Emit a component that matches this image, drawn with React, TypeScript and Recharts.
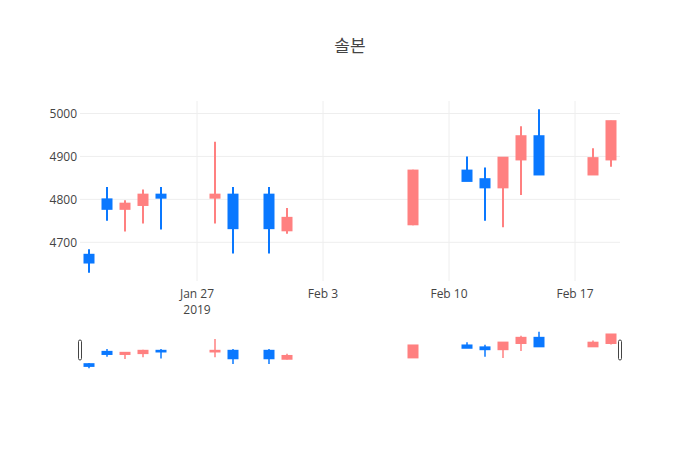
import React from 'react';
import {
  ComposedChart,
  Bar,
  XAxis,
  YAxis,
  CartesianGrid,
  ReferenceLine,
} from 'recharts';

const dates = [
  '2019-01-21', '2019-01-22', '2019-01-23', '2019-01-24', '2019-01-25',
  '2019-01-28', '2019-01-29', '2019-01-31', '2019-02-01', '2019-02-08',
  '2019-02-11', '2019-02-12', '2019-02-13', '2019-02-14', '2019-02-15',
  '2019-02-18', '2019-02-19',
];
const opens = [4671, 4800, 4778, 4787, 4811, 4804, 4811, 4811, 4728, 4742, 4867, 4847, 4828, 4893, 4947, 4858, 4893];
const highs = [4684, 4829, 4798, 4823, 4829, 4934, 4829, 4829, 4780, 4869, 4900, 4874, 4898, 4970, 5010, 4919, 4983];
const lows = [4629, 4750, 4725, 4744, 4730, 4744, 4674, 4674, 4720, 4740, 4843, 4750, 4735, 4810, 4858, 4858, 4876];
const closes = [4653, 4778, 4790, 4811, 4804, 4811, 4733, 4733, 4757, 4867, 4843, 4828, 4897, 4947, 4858, 4896, 4982];

const tickDates = ['2019-01-27', '2019-02-03', '2019-02-10', '2019-02-17'];
const yTicks = [4700, 4800, 4900, 5000];
const yDomain = [4610, 5029];

const UP = '#ff8080';
const DOWN = '#0a78ff';
const FONT = '"Open Sans", "Noto Sans CJK KR", sans-serif';
const DAY = 86400000;
const MONTHS = ['Jan', 'Feb', 'Mar', 'Apr', 'May', 'Jun', 'Jul', 'Aug', 'Sep', 'Oct', 'Nov', 'Dec'];

const toTs = (d: string) => Date.parse(d + 'T00:00:00Z');

const data = dates.map((d, i) => ({
  t: toTs(d),
  range: [lows[i], highs[i]],
  open: opens[i],
  high: highs[i],
  low: lows[i],
  close: closes[i],
}));

const xTicks = tickDates.map(toTs);
const xDomain = [toTs(dates[0]) - DAY / 2, toTs(dates[dates.length - 1]) + DAY / 2];

const makeCandle = (wick: number, bodyW: number) => (props: any) => {
  const { x, y, width, height, payload } = props;
  if (!payload || height == null) return <g />;
  const top = Math.min(y, y + height);
  const h = Math.abs(height);
  const span = payload.high - payload.low || 1;
  const k = h / span;
  const cx = x + width / 2;
  const up = payload.close >= payload.open;
  const color = up ? UP : DOWN;
  const bTop = top + (payload.high - Math.max(payload.open, payload.close)) * k;
  const bBot = top + (payload.high - Math.min(payload.open, payload.close)) * k;
  return (
    <g>
      <line x1={cx} x2={cx} y1={top} y2={top + h} stroke={color} strokeWidth={wick} />
      <rect x={cx - bodyW / 2} y={bTop - 1} width={bodyW} height={Math.max(bBot - bTop + 2, 2)} fill={color} />
    </g>
  );
};

const XTick = (props: any) => {
  const { x, y, payload, index } = props;
  const d = new Date(payload.value);
  const label = `${MONTHS[d.getUTCMonth()]} ${d.getUTCDate()}`;
  return (
    <g>
      <text x={x} y={y + 15} textAnchor="middle" fill="#444" fontSize={12} fontFamily={FONT}>
        {label}
      </text>
      {index === 0 && (
        <text x={x} y={y + 31} textAnchor="middle" fill="#444" fontSize={12} fontFamily={FONT}>
          {d.getUTCFullYear()}
        </text>
      )}
    </g>
  );
};

const Handle = (props: any) => {
  const { x1, y1, y2 } = props;
  const mid = (y1 + y2) / 2;
  return <rect x={x1 - 1.5} y={mid - 10} width={3} height={20} rx={1.5} fill="#fff" stroke="#444" strokeWidth={1} />;
};

// grid only at the tick values (no frame around the plot), mapped through the plot offset
const hGrid = ({ offset }: any) =>
  yTicks.map((v) => offset.top + ((yDomain[1] - v) / (yDomain[1] - yDomain[0])) * offset.height);
const vGrid = ({ offset }: any) =>
  xTicks.map((v) => offset.left + ((v - xDomain[0]) / (xDomain[1] - xDomain[0])) * offset.width);

const App: React.FC = () => {
  return (
    <div style={{ position: 'absolute', left: 0, top: 0, width: 700, height: 450, background: '#fff', fontFamily: FONT }}>
      <div style={{ position: 'absolute', left: 0, top: 32, width: 700, textAlign: 'center', fontSize: 17, color: '#444' }}>
        솔본
      </div>
      <div style={{ position: 'absolute', left: 0, top: 0 }}>
        <ComposedChart width={700} height={321} data={data} margin={{ top: 101, right: 80, left: 0, bottom: 0 }}>
          <CartesianGrid
            stroke="#eee"
            horizontalCoordinatesGenerator={hGrid}
            verticalCoordinatesGenerator={vGrid}
          />
          <XAxis
            dataKey="t"
            type="number"
            scale="time"
            domain={xDomain}
            ticks={xTicks}
            tick={<XTick />}
            axisLine={false}
            tickLine={false}
            tickSize={0}
            height={40}
            allowDataOverflow
          />
          <YAxis
            type="number"
            domain={yDomain}
            ticks={yTicks}
            width={80}
            axisLine={false}
            tickLine={false}
            tickSize={0}
            tickMargin={3}
            tick={{ fill: '#444', fontSize: 12, fontFamily: FONT }}
            allowDataOverflow
          />
          <Bar dataKey="range" barSize={12} shape={makeCandle(2, 11)} isAnimationActive={false} />
        </ComposedChart>
      </div>
      <div style={{ position: 'absolute', left: 0, top: 330 }}>
        <ComposedChart width={700} height={40} data={data} margin={{ top: 0, right: 80, left: 80, bottom: 0 }}>
          <XAxis dataKey="t" type="number" scale="time" domain={xDomain} hide allowDataOverflow />
          <YAxis type="number" domain={yDomain} hide allowDataOverflow />
          <Bar dataKey="range" barSize={12} shape={makeCandle(1.5, 11)} isAnimationActive={false} />
          <ReferenceLine x={xDomain[0]} stroke="none" shape={<Handle />} />
          <ReferenceLine x={xDomain[1]} stroke="none" shape={<Handle />} />
        </ComposedChart>
      </div>
    </div>
  );
};

export default App;
